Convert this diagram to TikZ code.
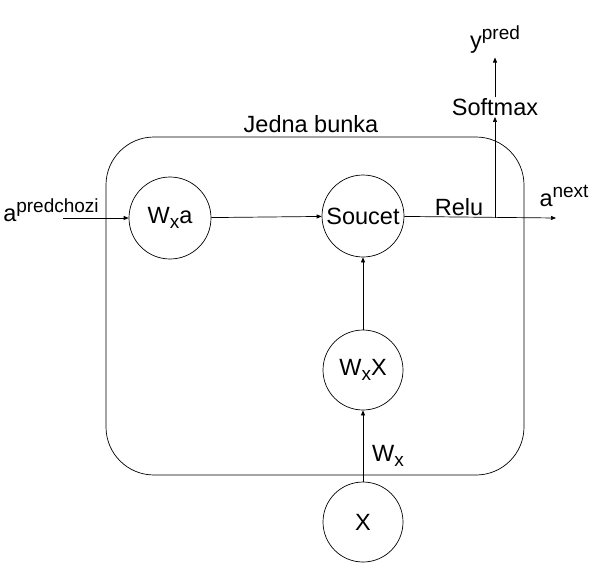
\documentclass[tikz,border=0pt]{standalone}
\usepackage{fontspec}
\setmainfont{Liberation Sans}
\usetikzlibrary{arrows.meta}
\newcommand{\hoch}[1]{\raisebox{9pt}{\fontsize{19}{22}\selectfont #1}}
\newcommand{\tief}[1]{\raisebox{-5pt}{\fontsize{19}{22}\selectfont #1}}

\begin{document}
\begin{tikzpicture}[x=1pt, y=-1pt, font=\fontsize{23.5}{28}\selectfont,
  >={Triangle[length=5pt, width=4pt]}, line width=0.7pt]
\useasboundingbox (0,0) rectangle (593,587);

\draw[rounded corners=48pt] (106,137) rectangle (524,475);
\node (title) at (311,124) {Jedna bunka};

\node[draw, circle, minimum size=82pt, inner sep=0pt] (wxa) at (170,218) {W\tief{x}a};
\node[draw, circle, minimum size=82pt, inner sep=0pt] (soucet) at (363,216) {Soucet};
\node[draw, circle, minimum size=80pt, inner sep=0pt] (wxx) at (363,370) {W\tief{x}X};
\node[draw, circle, minimum size=80pt, inner sep=0pt] (x) at (363,522) {X};

\node (apred) at (51,210) {a\hoch{predchozi}};
\coordinate (in) at (63,218);
\coordinate (out) at (556,218);
\coordinate (split) at (495,218);
\node (relu) at (459,207) {Relu};
\node (anext) at (564,196) {a\hoch{next}};
\node[inner sep=1pt] (softmax) at (495,107) {Softmax};
\node (ypred) at (495,40) {y\hoch{pred}};
\node (wx) at (388,456) {W\tief{x}};

\draw[->] (in) -- (wxa);
\draw[->] (wxa) -- (soucet);
\draw[->] (soucet) -- (out);
\draw[->] (split) -- (softmax);
\draw[->] (softmax) -- (ypred);
\draw[->] (x) -- (wxx);
\draw[->] (wxx) -- (soucet);
\end{tikzpicture}
\end{document}
